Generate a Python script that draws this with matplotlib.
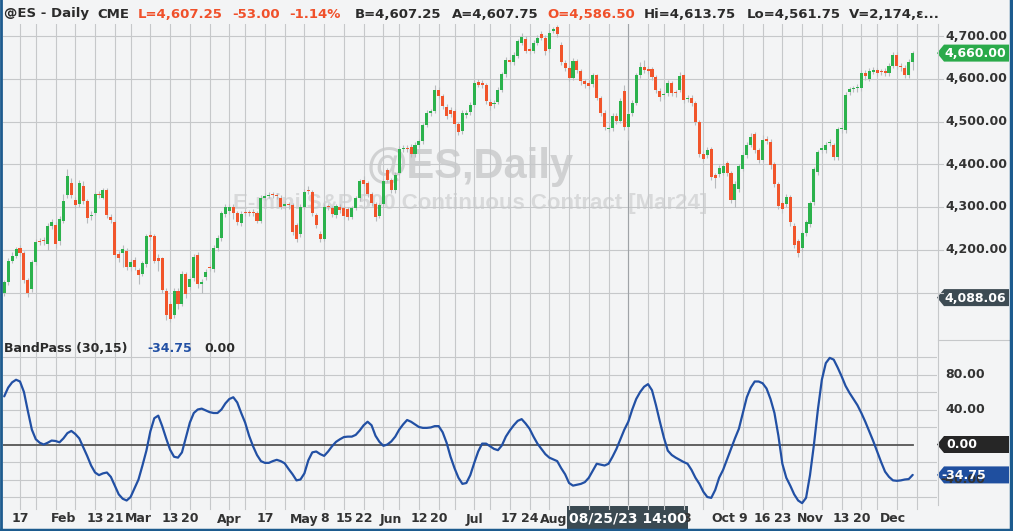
import numpy as np
import pandas as pd
import matplotlib
matplotlib.use("Agg")
import matplotlib.pyplot as plt
from matplotlib.patches import Polygon

# ---------------------------------------------------------------- data
# daily bars @ES, 2023-01-10 .. 2023-12-08 (one value per trading day)
opens = [
    4100, 4125, 4174, 4185, 4203, 4193, 4129, 4109, 4171, 4221,
    4223, 4214, 4256, 4258, 4220, 4267, 4328, 4357, 4316, 4306,
    4349, 4314, 4279, 4287, 4331, 4322, 4339, 4277, 4265, 4189,
    4193, 4197, 4160, 4175, 4152, 4144, 4167, 4235, 4232, 4180,
    4180, 4104, 4072, 4047, 4104, 4074, 4143, 4113, 4135, 4187,
    4121, 4136, 4159, 4154, 4203, 4227, 4283, 4290, 4301, 4285,
    4263, 4287, 4287, 4287, 4286, 4268, 4322, 4326, 4329, 4327,
    4322, 4303, 4307, 4305, 4257, 4236, 4301, 4340, 4336, 4281,
    4238, 4226, 4301, 4297, 4281, 4301, 4297, 4295, 4277, 4298,
    4320, 4364, 4356, 4330, 4307, 4280, 4307, 4387, 4362, 4339,
    4380, 4436, 4437, 4441, 4423, 4446, 4454, 4491, 4521, 4525,
    4574, 4559, 4533, 4528, 4525, 4494, 4477, 4515, 4523, 4539,
    4592, 4590, 4586, 4545, 4540, 4545, 4574, 4610, 4643, 4639,
    4653, 4684, 4694, 4668, 4666, 4684, 4705, 4696, 4669, 4712,
    4720, 4680, 4637, 4625, 4602, 4641, 4617, 4594, 4590, 4587,
    4608, 4556, 4521, 4483, 4485, 4513, 4501, 4572, 4487, 4519,
    4543, 4609, 4628, 4623, 4623, 4603, 4572, 4561, 4566, 4590,
    4568, 4574, 4608, 4553, 4556, 4543, 4499, 4424, 4421, 4435,
    4374, 4378, 4380, 4402, 4380, 4317, 4343, 4390, 4421, 4445,
    4470, 4433, 4411, 4459, 4453, 4400, 4353, 4309, 4307, 4323,
    4256, 4220, 4203, 4239, 4260, 4311, 4382, 4433, 4433, 4449,
    4445, 4417, 4482, 4480, 4569, 4575, 4578, 4579, 4614, 4600,
    4616, 4620, 4616, 4617, 4614, 4630, 4655, 4628, 4626, 4609,
    4639,
]
highs = [
    4130, 4180, 4194, 4207, 4210, 4197, 4135, 4176, 4224, 4228,
    4230, 4262, 4272, 4265, 4280, 4330, 4388, 4368, 4324, 4362,
    4360, 4318, 4290, 4335, 4338, 4345, 4344, 4283, 4270, 4196,
    4210, 4203, 4178, 4182, 4158, 4174, 4238, 4244, 4236, 4190,
    4184, 4110, 4080, 4110, 4110, 4150, 4148, 4138, 4190, 4195,
    4132, 4156, 4164, 4210, 4234, 4290, 4306, 4308, 4306, 4290,
    4290, 4294, 4292, 4295, 4290, 4328, 4333, 4336, 4335, 4333,
    4327, 4314, 4312, 4310, 4262, 4306, 4342, 4348, 4340, 4286,
    4244, 4306, 4308, 4302, 4308, 4307, 4302, 4300, 4303, 4325,
    4366, 4372, 4360, 4335, 4312, 4310, 4366, 4392, 4368, 4382,
    4442, 4445, 4444, 4448, 4452, 4460, 4497, 4528, 4530, 4585,
    4580, 4564, 4540, 4534, 4530, 4500, 4527, 4528, 4545, 4596,
    4600, 4597, 4590, 4552, 4550, 4580, 4616, 4652, 4650, 4662,
    4694, 4706, 4700, 4675, 4690, 4702, 4712, 4702, 4714, 4722,
    4726, 4686, 4644, 4630, 4648, 4646, 4622, 4600, 4596, 4614,
    4612, 4560, 4526, 4492, 4520, 4520, 4556, 4585, 4524, 4550,
    4614, 4640, 4645, 4630, 4628, 4608, 4578, 4570, 4596, 4595,
    4574, 4615, 4612, 4562, 4562, 4548, 4504, 4430, 4440, 4440,
    4380, 4398, 4402, 4408, 4385, 4360, 4400, 4428, 4452, 4472,
    4476, 4438, 4468, 4465, 4458, 4405, 4358, 4314, 4330, 4328,
    4262, 4226, 4245, 4270, 4315, 4394, 4434, 4444, 4452, 4460,
    4450, 4488, 4492, 4570, 4580, 4584, 4588, 4620, 4620, 4624,
    4628, 4626, 4622, 4624, 4636, 4662, 4662, 4636, 4632, 4646,
    4666,
]
lows = [
    4092, 4118, 4168, 4180, 4186, 4122, 4090, 4102, 4165, 4210,
    4212, 4200, 4248, 4205, 4212, 4262, 4322, 4320, 4298, 4300,
    4308, 4262, 4270, 4282, 4320, 4318, 4275, 4262, 4180, 4172,
    4160, 4152, 4150, 4152, 4120, 4138, 4160, 4222, 4168, 4150,
    4098, 4036, 4030, 4040, 4062, 4068, 4088, 4105, 4128, 4110,
    4100, 4130, 4150, 4148, 4198, 4220, 4276, 4284, 4272, 4258,
    4255, 4280, 4278, 4279, 4262, 4262, 4316, 4320, 4320, 4318,
    4295, 4296, 4296, 4235, 4218, 4230, 4296, 4330, 4280, 4250,
    4218, 4220, 4292, 4276, 4274, 4286, 4272, 4270, 4272, 4292,
    4314, 4348, 4324, 4302, 4268, 4274, 4300, 4358, 4332, 4333,
    4374, 4428, 4428, 4416, 4418, 4440, 4448, 4486, 4514, 4520,
    4552, 4530, 4506, 4510, 4487, 4468, 4470, 4508, 4516, 4533,
    4580, 4578, 4540, 4528, 4532, 4540, 4568, 4604, 4634, 4632,
    4648, 4678, 4660, 4658, 4660, 4678, 4690, 4655, 4662, 4706,
    4698, 4632, 4618, 4594, 4596, 4614, 4586, 4578, 4576, 4580,
    4550, 4514, 4480, 4476, 4478, 4494, 4496, 4480, 4456, 4512,
    4538, 4602, 4614, 4612, 4596, 4566, 4548, 4552, 4560, 4560,
    4558, 4568, 4544, 4546, 4536, 4492, 4416, 4405, 4414, 4362,
    4345, 4370, 4374, 4372, 4310, 4300, 4336, 4384, 4415, 4440,
    4426, 4404, 4405, 4448, 4390, 4346, 4296, 4286, 4300, 4256,
    4204, 4184, 4196, 4232, 4254, 4305, 4376, 4426, 4426, 4442,
    4410, 4410, 4474, 4474, 4562, 4568, 4570, 4572, 4598, 4594,
    4610, 4606, 4608, 4606, 4606, 4624, 4622, 4618, 4602, 4602,
    4620,
]
closes = [
    4125, 4174, 4185, 4201, 4193, 4129, 4100, 4171, 4219, 4218,
    4220, 4256, 4266, 4214, 4271, 4314, 4373, 4328, 4305, 4357,
    4314, 4275, 4281, 4330, 4327, 4339, 4281, 4270, 4188, 4181,
    4201, 4160, 4171, 4160, 4140, 4168, 4232, 4230, 4174, 4174,
    4105, 4047, 4039, 4104, 4074, 4143, 4096, 4132, 4183, 4121,
    4125, 4149, 4157, 4205, 4227, 4285, 4299, 4300, 4285, 4265,
    4283, 4286, 4285, 4286, 4268, 4322, 4325, 4329, 4327, 4326,
    4301, 4307, 4304, 4242, 4226, 4301, 4336, 4337, 4287, 4257,
    4226, 4301, 4299, 4283, 4302, 4293, 4279, 4277, 4298, 4320,
    4360, 4354, 4330, 4309, 4277, 4305, 4360, 4364, 4339, 4376,
    4436, 4437, 4435, 4423, 4446, 4454, 4491, 4521, 4523, 4574,
    4559, 4537, 4513, 4517, 4494, 4476, 4521, 4521, 4539, 4590,
    4586, 4586, 4548, 4536, 4544, 4574, 4610, 4645, 4640, 4655,
    4688, 4698, 4666, 4666, 4684, 4696, 4696, 4666, 4708, 4716,
    4704, 4639, 4625, 4602, 4641, 4621, 4594, 4587, 4584, 4608,
    4556, 4521, 4487, 4485, 4513, 4501, 4547, 4487, 4517, 4543,
    4608, 4627, 4621, 4619, 4603, 4574, 4558, 4564, 4590, 4566,
    4566, 4606, 4550, 4556, 4543, 4499, 4424, 4413, 4433, 4370,
    4368, 4391, 4395, 4380, 4317, 4353, 4395, 4421, 4445, 4463,
    4433, 4411, 4457, 4455, 4398, 4354, 4303, 4295, 4323, 4264,
    4211, 4193, 4239, 4264, 4309, 4388, 4428, 4437, 4445, 4453,
    4417, 4482, 4484, 4563, 4575, 4576, 4580, 4614, 4606, 4618,
    4620, 4614, 4615, 4614, 4630, 4655, 4630, 4627, 4609, 4639,
    4660,
]
bandpass = [
    55, 65, 71, 74, 72, 60, 38, 17, 6, 2,
    0, 2, 4.5, 4, 2.5, 7, 13, 15.5, 12, 7,
    -3, -13, -24, -32, -35, -33, -32, -37, -47, -57,
    -62, -64, -60, -50, -40, -24, -7, 15, 30, 33,
    21, 7, -6, -14, -15, -9, 8, 25, 36, 40,
    41, 39, 37, 36, 36, 40, 47, 52, 54, 48,
    36, 25, 10, -2, -12, -19, -21, -21, -19, -17.5,
    -19, -21.5, -28, -34, -41, -40, -33, -18, -9, -8,
    -11, -13, -8, -2, 3, 6, 8.5, 9, 9, 11,
    16, 22, 26, 22, 10, 3, -1.5, 0, 3.5, 9,
    17, 23, 28, 26, 23, 20, 19, 19, 19.5, 21,
    21, 14, 2, -14, -27, -38, -45, -44, -35, -21,
    -8, 1, 1, -2, -5, -6.5, -1, 9, 16, 22,
    27, 29, 24, 18, 9, 1, -5, -11, -15, -17,
    -19, -27, -34, -44, -47, -46, -45, -43, -38, -30,
    -22, -23, -24, -22, -14, -5, 6, 17, 26, 40,
    52, 60, 66, 69, 62, 45, 26, 8, -7, -12,
    -15, -17.5, -20, -22, -29, -38, -45, -54, -60, -61,
    -52, -38, -29, -17, -5, 7, 18, 36, 54, 65,
    72, 72, 70, 64, 52, 36, 10, -22, -38, -47,
    -57, -64, -67, -61, -35, 0, 40, 74, 93, 99,
    97, 88, 78, 67, 59, 52, 45, 36, 26, 15,
    4, -8, -20, -31, -37, -41, -41.5, -41, -40, -39.5,
    -34.75,
]
last_price = 4660.00
ref_price = 4088.06
bp_last = -34.75

price_levels = [4100, 4200, 4300, 4400, 4500, 4600, 4700]
price_labels = [4200, 4300, 4400, 4500, 4600, 4700]
bp_grid = [-60, -40, -20, 20, 40, 60, 80, 100]
bp_labels = [80, 40, -40]

holidays = ["2023-01-16", "2023-02-20", "2023-04-07", "2023-05-29",
            "2023-06-19", "2023-07-04", "2023-09-04", "2023-11-23"]
tick_dates = ["2023-01-17", "2023-02-01", "2023-02-13", "2023-02-21",
              "2023-03-01", "2023-03-13", "2023-03-20", "2023-04-03",
              "2023-04-17", "2023-05-01", "2023-05-08", "2023-05-15",
              "2023-05-22", "2023-06-01", "2023-06-12", "2023-06-20",
              "2023-07-03", "2023-07-17", "2023-07-24", "2023-08-01",
              "2023-09-18", "2023-10-02", "2023-10-09", "2023-10-16",
              "2023-10-23", "2023-11-01", "2023-11-13", "2023-11-20",
              "2023-12-01"]
tick_text = ["17", "Feb", "13", "21", "Mar", "13", "20", "Apr", "17", "May",
             "8", "15", "22", "Jun", "12", "20", "Jul", "17", "24", "Aug",
             "18", "Oct", "9", "16", "23", "Nov", "13", "20", "Dec"]
cursor_date = "2023-08-25"

header = [("@ES - Daily", 4, "k"), ("CME", 97, "k"), ("L=4,607.25", 138, "r"),
          ("-53.00", 232, "r"), ("-1.14%", 289, "r"), ("B=4,607.25", 355, "k"),
          ("A=4,607.75", 452, "k"), ("O=4,586.50", 547, "r"),
          ("Hi=4,613.75", 644, "k"), ("Lo=4,561.75", 747, "k"),
          ("V=2,174,\u03b5...", 849, "k")]

# ---------------------------------------------------------------- style
W, H = 1013, 531
BG = "#f3f4f5"
GRID = "#c6c8ca"
TXT = "#2b2b2b"
HRED = "#f0502a"
GREEN = "#2bb24c"
RED = "#f1552b"
WICK = "#b8bbbe"
BLUE = "#2250a4"
FRAME = "#1d5b8e"
FONT = "DejaVu Sans"

days = pd.bdate_range("2023-01-10", "2023-12-15")
days = days[~days.isin(pd.to_datetime(holidays))]
n = len(closes)
x = np.arange(n)
wk = days.isocalendar().week.values
week_lines = [i for i in range(1, len(days)) if wk[i] != wk[i - 1]]


def px_x(i):
    return 4.2 + 3.95 * i


XL = ((3 - 4.2) / 3.95, (937 - 4.2) / 3.95)

fig = plt.figure(figsize=(W / 100, H / 100), dpi=100, facecolor=BG)


def add_px_axes(x0, y0, x1, y1):
    return fig.add_axes([x0 / W, 1 - y1 / H, (x1 - x0) / W, (y1 - y0) / H])


# watermark layer (under the price panel)
wm = fig.add_axes([0, 0, 1, 1], facecolor=BG)
wm.set_xlim(0, W)
wm.set_ylim(H, 0)
wm.axis("off")
wm.text(470, 178, "@ES,Daily", fontsize=30, fontweight="bold",
        family="Liberation Sans", color="#d0d1d2", ha="center", va="baseline")
wm.text(470, 203, "E-mini S&P 500 Continuous Contract [Mar24]", fontsize=16,
        fontweight="bold", family="Liberation Sans", color="#d8d9da",
        ha="center", va="center")

ax1 = add_px_axes(3, 24, 937, 338)
ax2 = add_px_axes(3, 338, 937, 505)
for ax in (ax1, ax2):
    ax.patch.set_alpha(0)
    ax.set_xlim(*XL)
    for s in ax.spines.values():
        s.set_visible(False)
    ax.set_xticks([])
    ax.set_yticks([])
    for i in week_lines:
        ax.axvline(i, color=GRID, lw=0.8, zorder=0)

ax1.set_ylim(4700 - (338 - 36) / 0.4275, 4700 + 12 / 0.4275)
ax2.set_ylim((444.5 - 505) / 0.875, (444.5 - 338) / 0.875)

for p in price_levels:
    ax1.axhline(p, color=GRID, lw=0.8, zorder=0)
for v in bp_grid:
    ax2.axhline(v, color=GRID, lw=0.8, zorder=0)

# candles
o = np.array(opens, float)
c = np.array(closes, float)
up = c >= o
cols = np.where(up, GREEN, RED)
body_lo = np.minimum(o, c)
body_h = np.maximum(np.abs(c - o), 2.6)
ax1.vlines(x, lows, highs, color=WICK, lw=0.8, zorder=2)
ax1.bar(x, body_h, bottom=body_lo, width=0.78, color=cols, lw=0, zorder=3)

# bandpass
ax2.plot([XL[0], n - 1], [0, 0], color="#555555", lw=1.3, zorder=2)
ax2.plot(x, bandpass, color=BLUE, lw=1.6, zorder=3, solid_capstyle="round")

cur = days.get_loc(pd.Timestamp(cursor_date))
for ax in (ax1, ax2):
    ax.axvline(cur + 0.8, color="#9fa3a7", lw=0.8, zorder=1)

# ---------------------------------------------------------------- overlay (pixel coords)
ov = fig.add_axes([0, 0, 1, 1], facecolor="none")
ov.set_xlim(0, W)
ov.set_ylim(H, 0)
ov.axis("off")


def data_y(ax, v):
    return H - ax.transData.transform((0, v))[1]


# header
for txt, xp, col in header:
    ov.text(xp, 14, txt, fontsize=9.5, fontweight="bold", family=FONT,
            color=HRED if col == "r" else TXT, ha="left", va="center")

ov.text(4, 349, "BandPass (30,15)", fontsize=9, fontweight="bold", family=FONT,
        color=TXT, ha="left", va="center")
ov.text(147, 349, f"{bp_last:.2f}", fontsize=9, fontweight="bold", family=FONT,
        color=BLUE, ha="left", va="center")
ov.text(204, 349, "0.00", fontsize=9, fontweight="bold", family=FONT,
        color=TXT, ha="left", va="center")

# right axis
ov.plot([937.5, 937.5], [24, 505], color=GRID, lw=0.8)
ov.plot([937.5, 1010], [340, 340], color=GRID, lw=0.8)
for p in price_levels:
    yy = data_y(ax1, p)
    ov.plot([937, 943], [yy, yy], color=GRID, lw=0.8)
for p in price_labels:
    ov.text(1007, data_y(ax1, p), f"{p:,.2f}", fontsize=9, fontweight="bold",
            family=FONT, color="#333333", ha="right", va="center")
for v in bp_labels:
    ov.text(985, data_y(ax2, v), f"{v:.2f}", fontsize=9, fontweight="bold",
            family=FONT, color="#333333", ha="right", va="center")


def tag(yc, text, color, x_txt=944):
    pts = [(937, yc), (944, yc - 8.5), (1009, yc - 8.5), (1009, yc + 8.5), (944, yc + 8.5)]
    ov.add_patch(Polygon(pts, closed=True, color=color, lw=0))
    ov.text(x_txt, yc + 0.5, text, fontsize=9, fontweight="bold", family=FONT,
            color="white", ha="left", va="center")


tag(data_y(ax1, last_price), f"{last_price:,.2f}", "#2aaa4a")
tag(data_y(ax1, ref_price), f"{ref_price:,.2f}", "#3d4b53")
tag(data_y(ax2, 0), "0.00", "#262626", x_txt=946)
tag(data_y(ax2, bp_last), f"{bp_last:.2f}", "#1f4f9f", x_txt=941)

# x labels
for d, t in zip(tick_dates, tick_text):
    i = days.get_loc(pd.Timestamp(d))
    ov.text(px_x(i), 519, t, fontsize=9, fontweight="bold", family=FONT,
            color="#333333", ha="center", va="center")
for i in week_lines:
    ov.plot([px_x(i), px_x(i)], [505, 509], color=GRID, lw=0.8)

ov.add_patch(plt.Rectangle((567, 506), 121, 25, color="#3b4a52", lw=0))
ov.text(627.5, 519, "08/25/23 14:00", fontsize=10, fontweight="bold", family=FONT,
        color="white", ha="center", va="center")

# frame
ov.plot([1, 1], [0, H], color=FRAME, lw=2)
ov.plot([W - 2, W - 2], [0, H], color=FRAME, lw=2.5)
ov.plot([0, W], [H - 1.5, H - 1.5], color=FRAME, lw=2.5)

fig.savefig("out.png", dpi=100, facecolor=BG)
